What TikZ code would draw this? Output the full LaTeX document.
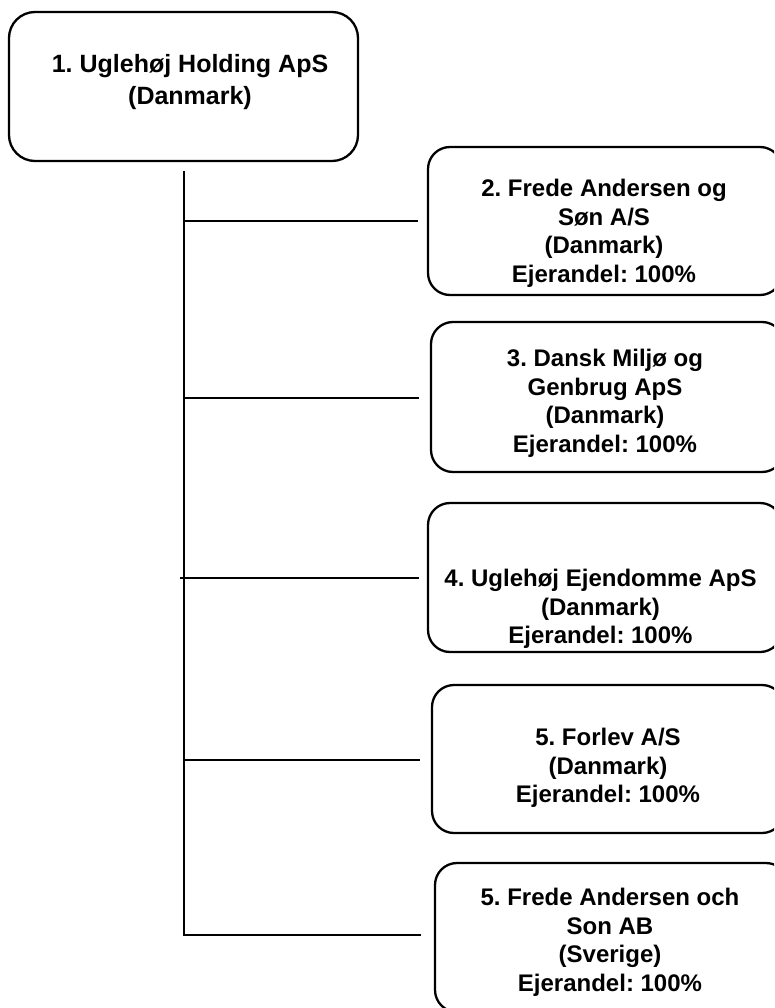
\documentclass[tikz,border=0pt]{standalone}
\usepackage{fontspec}
\setmainfont{Liberation Sans}
\frenchspacing
\begin{document}
\begin{tikzpicture}[x=1pt,y=-1pt,
  box/.style={draw=black, line width=2.3pt, inner sep=0pt, rounded corners=22pt},
  topbox/.style={box, rounded corners=26pt},
  lbl/.style={font=\bfseries\fontsize{24}{28.5}\selectfont, align=center, inner sep=0pt, anchor=base},
  toplbl/.style={lbl, font=\bfseries\fontsize{25}{32}\selectfont},
  conn/.style={line width=2pt, line join=miter}]
\useasboundingbox (0,0) rectangle (774,1008);
\clip (0,0) rectangle (774,1008);
% boxes
\node[topbox, minimum width=349pt, minimum height=149pt] (b1) at (183.5,86.5) {};
\node[box, minimum width=354pt, minimum height=148pt] (b2) at (605,221) {};
\node[box, minimum width=353pt, minimum height=150pt] (b3) at (607.5,397) {};
\node[box, minimum width=354pt, minimum height=149pt] (b4) at (605,577.5) {};
\node[box, minimum width=352pt, minimum height=148pt] (b5) at (608,759) {};
\node[box, minimum width=353pt, minimum height=149pt] (b6) at (611.5,937.5) {};
% texts (anchor = baseline of the last line)
\node[toplbl] (t1) at (190,105) {1. Uglehøj Holding ApS\\(Danmark)};
\node[lbl] (t2) at (604,282.5) {2. Frede Andersen og\\Søn A/S\\(Danmark)\\Ejerandel: 100\%};
\node[lbl] (t3) at (605,452) {3. Dansk Miljø og\\Genbrug ApS\\(Danmark)\\Ejerandel: 100\%};
\node[lbl] (t4) at (600.5,643.5) {4. Uglehøj Ejendomme ApS\\(Danmark)\\Ejerandel: 100\%};
\node[lbl] (t5) at (608,802.5) {5. Forlev A/S\\(Danmark)\\Ejerandel: 100\%};
\node[lbl] (t6) at (610,991) {5. Frede Andersen och\\Son AB\\(Sverige)\\Ejerandel: 100\%};
% connector points
\coordinate (trunk) at (184,171);
\coordinate (j2) at (184,221);
\coordinate (j3) at (184,398);
\coordinate (j4) at (180,578);
\coordinate (j5) at (184,760);
\coordinate (e2) at (418,221);
\coordinate (e3) at (419,398);
\coordinate (e4) at (419,578);
\coordinate (e5) at (420,760);
\coordinate (e6) at (421,935);
% connectors
\draw[conn] (trunk) |- (e6);
\draw[conn] (j2) -- (e2);
\draw[conn] (j3) -- (e3);
\draw[conn] (j4) -- (e4);
\draw[conn] (j5) -- (e5);
\end{tikzpicture}
\end{document}
